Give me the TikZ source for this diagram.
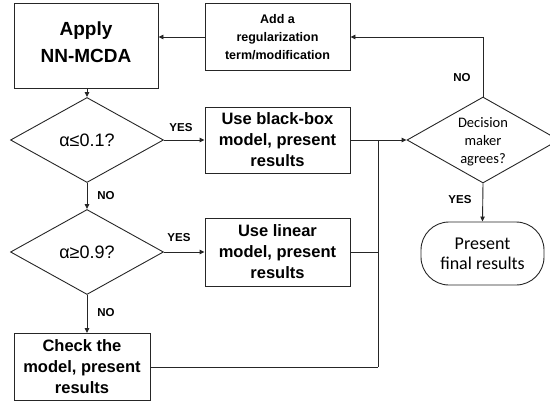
\documentclass[tikz,border=0pt]{standalone}
\usepackage{fontspec}
\setmainfont{Liberation Sans}
\newfontfamily\carlitofont{Carlito}
\usetikzlibrary{shapes.geometric,arrows.meta}
\tikzset{
  box/.style={draw=black!85, line width=0.9pt, minimum height=67pt, align=center, inner sep=0pt, fill=white},
  dia/.style={draw=black!85, line width=0.9pt, shape=diamond, minimum width=153pt, minimum height=85pt, inner sep=0pt},
  conn/.style={draw=black!85, line width=0.9pt},
  arr/.style={conn, -{Triangle[length=5pt,width=4.5pt]}},
  lbl/.style={font=\fontsize{11.5}{13}\selectfont\bfseries, inner sep=0pt},
  diatext/.style={font=\fontsize{18}{21}\selectfont, inner sep=0pt},
  term/.style={draw=black!85, line width=0.9pt, rounded corners=28pt, minimum width=123pt, minimum height=63pt, align=center, inner sep=0pt}
}
\begin{document}
\begin{tikzpicture}[x=1pt,y=-1pt]
\useasboundingbox (0,0) rectangle (550,402);
\clip (0,0) rectangle (550,402);
% boxes
\node[box, minimum width=144pt, minimum height=85pt] (apply) at (86,45.5) {};
\node[align=center, inner sep=0pt, font=\fontsize{19}{27}\selectfont\bfseries] (applyt) at (86,42) {Apply\\NN-MCDA};
\node[box, minimum width=145pt, font=\fontsize{12.5}{18}\selectfont\bfseries] (add) at (277.5,37) {Add a\\regularization\\term/modification};
\node[box, minimum width=145pt, minimum height=66pt, font=\fontsize{16.5}{21}\selectfont\bfseries] (black) at (277.5,140) {Use black-box\\model, present\\results};
\node[box, minimum width=145pt, minimum height=68pt, font=\fontsize{16.5}{21}\selectfont\bfseries] (linear) at (277.5,252) {Use linear\\model, present\\results};
\node[box, minimum width=136pt, font=\fontsize{16.5}{21}\selectfont\bfseries] (check) at (82,367) {Check the\\model, present\\results};
% diamonds
\node[dia] (d1) at (87,140) {};
\node[diatext] (d1t) at (87,140) {α≤0.1?};
\node[dia] (d2) at (87,252) {};
\node[diatext] (d2t) at (87,252) {α≥0.9?};
\node[dia, minimum width=152pt, minimum height=86pt] (d3) at (483,140) {};
\node[align=center, inner sep=0pt, font=\carlitofont\fontsize{14.5}{18}\selectfont] (d3t) at (483,142) {Decision\\maker\\agrees?};
% terminal
\node[term, font=\carlitofont\fontsize{18}{20}\selectfont] (final) at (482.5,253.5) {Present\\final results};
% junction
\coordinate (j1) at (378,140);
\coordinate (j2) at (378,252);
\coordinate (j3) at (378,367);
% connectors
\draw[arr] (add.west) -- (add.west -| apply.east);
\draw[arr] (apply.south -| d1.north) -- (d1.north);
\draw[arr] (d1.east) -- (black.west);
\draw[arr] (d1.south) -- (d2.north);
\draw[arr] (d2.east) -- (linear.west);
\draw[arr] (d2.south) -- (d2.south |- check.north);
\draw[arr] (black.east) -- (d3.west);
\draw[conn] (j1) -- (j3);
\draw[conn] (linear.east) -- (j2);
\draw[conn] (check.east) -- (j3);
\draw[arr] (d3.north) |- (add.east);
\draw[arr] (d3.south) -- (final.north);
% labels
\node[lbl] (y1) at (181,128) {YES};
\node[lbl] (y2) at (179,238) {YES};
\node[lbl] (n1) at (106,196) {NO};
\node[lbl] (n2) at (106,313) {NO};
\node[lbl] (n3) at (462,78) {NO};
\node[lbl] (y3) at (460,200) {YES};
\end{tikzpicture}
\end{document}
